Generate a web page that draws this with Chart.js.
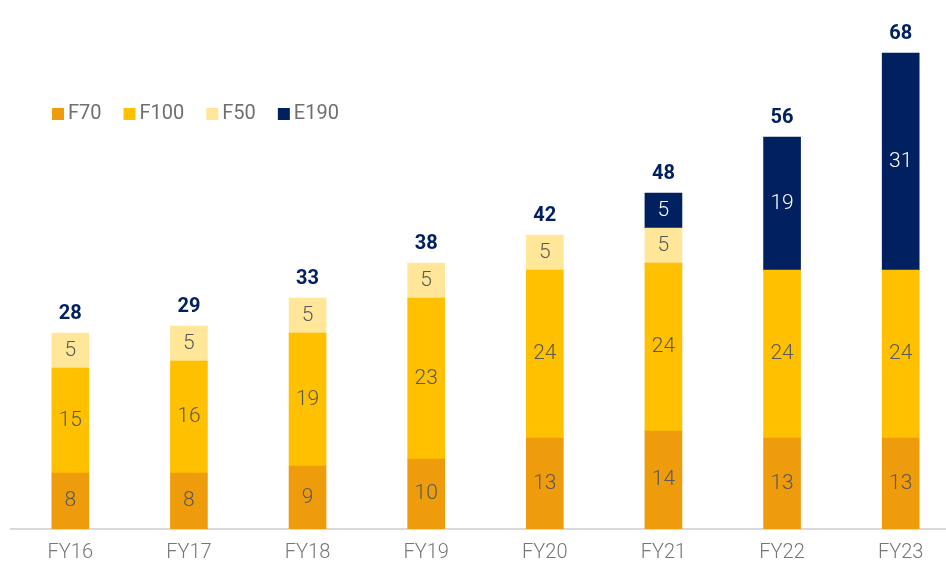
<!DOCTYPE html>
<html>
<head>
<meta charset="utf-8">
<script src="https://cdn.jsdelivr.net/npm/chart.js@4/dist/chart.umd.min.js"></script>
<style>
  html, body { margin: 0; padding: 0; background: #fff; overflow: hidden; }
  #wrap { width: 960px; height: 577px; position: relative; }
</style>
</head>
<body>
<div id="wrap"><canvas id="c"></canvas></div>
<script>
const categories = ['FY16', 'FY17', 'FY18', 'FY19', 'FY20', 'FY21', 'FY22', 'FY23'];
const f70  = [8, 8, 9, 10, 13, 14, 13, 13];
const f100 = [15, 16, 19, 23, 24, 24, 24, 24];
const f50  = [5, 5, 5, 5, 5, 5, null, null];
const e190 = [null, null, null, null, null, 5, 19, 31];
const totals = [28, 29, 33, 38, 42, 48, 56, 68];

const seriesNames = ['F70', 'F100', 'F50', 'E190'];
const colors = ['#EE9C0C', '#FFC000', '#FFE699', '#002060'];
const textColors = ['#595959', '#595959', '#595959', '#ffffff'];

const labelsPlugin = {
  id: 'labels',
  afterDatasetsDraw(chart) {
    const ctx = chart.ctx;
    ctx.save();
    ctx.textAlign = 'center';
    ctx.textBaseline = 'middle';
    ctx.font = '300 21px Roboto';
    chart.data.datasets.forEach((ds, di) => {
      const meta = chart.getDatasetMeta(di);
      meta.data.forEach((el, i) => {
        const v = ds.data[i];
        if (v == null) return;
        ctx.fillStyle = textColors[di];
        ctx.fillText(String(v), el.x, (el.y + el.base) / 2);
      });
    });
    // totals
    ctx.font = 'bold 20px Roboto';
    ctx.fillStyle = '#002060';
    categories.forEach((c, i) => {
      let topY = Infinity, x = 0;
      chart.data.datasets.forEach((ds, di) => {
        if (ds.data[i] == null) return;
        const el = chart.getDatasetMeta(di).data[i];
        if (el.y < topY) { topY = el.y; x = el.x; }
      });
      ctx.fillText(String(totals[i]), x, topY - 19);
    });
    // legend
    ctx.font = '20px Roboto';
    ctx.textAlign = 'left';
    let lx = 52;
    const ly = 114;
    seriesNames.forEach((n, i) => {
      ctx.fillStyle = colors[i];
      ctx.fillRect(lx, ly - 6, 12, 12);
      ctx.fillStyle = '#6f6f6f';
      ctx.fillText(n, lx + 16, ly);
      lx += 16 + ctx.measureText(n).width + 22;
    });
    ctx.restore();
  }
};

const datasets = [f70, f100, f50, e190].map((d, i) => ({
  label: seriesNames[i],
  data: d,
  backgroundColor: colors[i],
  borderWidth: 0,
  barThickness: 37
}));

new Chart(document.getElementById('c'), {
  type: 'bar',
  data: { labels: categories, datasets },
  options: {
    responsive: true,
    maintainAspectRatio: false,
    animation: false,
    layout: { padding: { left: 11, right: 0, top: 0, bottom: 0 } },
    plugins: { legend: { display: false }, tooltip: { enabled: false } },
    scales: {
      x: {
        stacked: true,
        grid: { display: false, drawTicks: false },
        border: { display: true, color: '#d9d9d9', width: 2 },
        ticks: { color: '#767676', font: { family: 'Roboto', size: 20, weight: '300' }, padding: 12 }
      },
      y: {
        stacked: true,
        display: false,
        min: 0,
        max: 75.6
      }
    }
  },
  plugins: [labelsPlugin]
});
</script>
</body>
</html>
